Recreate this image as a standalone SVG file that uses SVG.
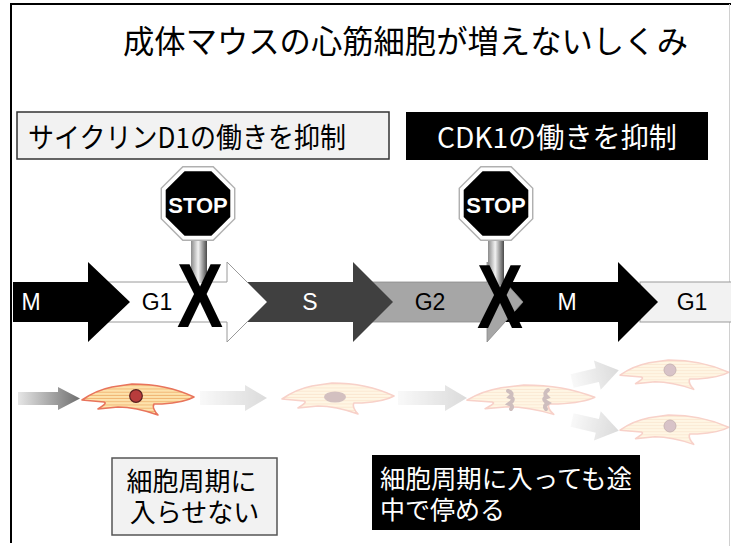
<svg xmlns="http://www.w3.org/2000/svg" width="731" height="546" viewBox="0 0 731 546">
  <style>
    .jp { font-family: "Noto Sans CJK JP", "Noto Sans", sans-serif; }
    .phase { font-family: "Liberation Sans", Arial, sans-serif; font-size: 23px; text-anchor: middle; }
    .cross { font-family: "Liberation Sans", Arial, sans-serif; font-size: 90px; font-weight: bold; fill: #000; }
    .stoptxt { font-family: "Liberation Sans", Arial, sans-serif; font-size: 22px; font-weight: bold; fill: #fff; text-anchor: middle; }
    .cellbody { fill: url(#stripes); stroke: #e8745c; stroke-width: 1.6; stroke-linejoin: round; }
  </style>
  <defs>
    <linearGradient id="pole" x1="0" y1="0" x2="1" y2="0">
      <stop offset="0" stop-color="#8a8a8a"/>
      <stop offset="0.45" stop-color="#f2f2f2"/>
      <stop offset="1" stop-color="#4a4a4a"/>
    </linearGradient>
    <linearGradient id="flowDark" x1="0" y1="0" x2="1" y2="0">
      <stop offset="0" stop-color="#e6e6e6"/>
      <stop offset="1" stop-color="#6e6e6e"/>
    </linearGradient>
    <linearGradient id="flowLight" x1="0" y1="0" x2="1" y2="0">
      <stop offset="0" stop-color="#f7f7f7"/>
      <stop offset="1" stop-color="#cfcfcf"/>
    </linearGradient>
    <pattern id="stripes" width="8" height="3.2" patternUnits="userSpaceOnUse">
      <rect width="8" height="3.2" fill="#fde3ad"/>
      <rect y="2.3" width="8" height="0.9" fill="#efb26e"/>
    </pattern>
    <!-- cardiomyocyte outline, about 112 x 32 -->
    <path id="cell" d="M0,17 C10,10 20,6 30,4 L50,1 C75,1 95,6 112,14 C105,18 95,20 80,21 L72,21 C70,24 73,29 76,32 C62,27 50,24 36,24 L16,26 C22,22 25,20 22,19 Z"/>
    <polygon id="octOuter" points="36,14.9 14.9,36 -14.9,36 -36,14.9 -36,-14.9 -14.9,-36 14.9,-36 36,-14.9"/>
    <polygon id="octInner" points="32.3,13.4 13.4,32.3 -13.4,32.3 -32.3,13.4 -32.3,-13.4 -13.4,-32.3 13.4,-32.3 32.3,-13.4"/>
    <!-- short block arrow used for the daughter-cell split -->
    <polygon id="splitArrow" points="0,-7 26,-7 26,-15 48,0 26,15 26,7 0,7"/>
  </defs>

  <rect width="731" height="546" fill="#fff"/>
  <!-- slide frame -->
  <path d="M11,543 V4 H731" fill="none" stroke="#000" stroke-width="2"/>
  <line x1="729.5" y1="4" x2="729.5" y2="546" stroke="#d0d0d0" stroke-width="1"/>

  <g id="title">
    <text class="jp" x="123" y="53" font-size="31.5" textLength="565" lengthAdjust="spacingAndGlyphs" fill="#000">成体マウスの心筋細胞が増えないしくみ</text>
  </g>

  <g id="label-cyclin">
    <rect x="17" y="112" width="372" height="47" fill="#f2f2f2" stroke="#333" stroke-width="1.5"/>
    <text class="jp" x="28" y="148" font-size="28" textLength="318" lengthAdjust="spacingAndGlyphs" fill="#000">サイクリンD1の働きを抑制</text>
  </g>

  <g id="label-cdk1">
    <rect x="406" y="112" width="302" height="48" fill="#000"/>
    <text class="jp" x="437" y="148" font-size="28" textLength="240" lengthAdjust="spacingAndGlyphs" fill="#fff">CDK1の働きを抑制</text>
  </g>

  <!-- cell-cycle phase arrows, drawn right to left so each head overlaps the next -->
  <g id="phases">
    <g id="phase-g1-next">
      <rect x="640" y="282" width="95" height="40" fill="#f2f2f2" stroke="#9a9a9a" stroke-width="1"/>
      <text class="phase" x="692" y="310" fill="#000">G1</text>
    </g>
    <g id="phase-m-next">
      <polygon points="490,282 618,282 618,262 658,302 618,342 618,322 490,322" fill="#000"/>
      <text class="phase" x="567" y="310" fill="#fff">M</text>
    </g>
    <g id="phase-g2">
      <polygon points="370,282 487,282 487,262 523,302 487,342 487,322 370,322" fill="#a6a6a6" stroke="#8a8a8a" stroke-width="0.8"/>
      <text class="phase" x="430" y="310" fill="#000">G2</text>
    </g>
    <g id="phase-s">
      <polygon points="230,282 353,282 353,262 393,302 353,342 353,322 230,322" fill="#404040"/>
      <text class="phase" x="310" y="310" fill="#fff">S</text>
    </g>
    <g id="phase-g1">
      <polygon points="100,282 227,282 227,262 267,302 227,342 227,322 100,322" fill="#fff" stroke="#9a9a9a" stroke-width="1"/>
      <text class="phase" x="157" y="310" fill="#000">G1</text>
    </g>
    <g id="phase-m">
      <polygon points="13,282 88,282 88,262 130,302 88,342 88,322 13,322" fill="#000"/>
      <text class="phase" x="31" y="310" fill="#fff">M</text>
    </g>
  </g>

  <g id="stop-g1">
    <rect x="191" y="238" width="16" height="45" fill="url(#pole)"/>
    <g transform="translate(198,203.5)">
      <use href="#octOuter" transform="scale(1.04)" fill="#b0b0b0"/>
      <use href="#octOuter" fill="#fff"/>
      <use href="#octInner" fill="#000"/>
    </g>
    <text class="stoptxt" x="198" y="213">STOP</text>
    <text class="cross" x="177" y="327" textLength="46" lengthAdjust="spacingAndGlyphs">X</text>
  </g>

  <g id="stop-m">
    <rect x="488" y="238" width="16" height="47" fill="url(#pole)"/>
    <g transform="translate(496,203.5)">
      <use href="#octOuter" transform="scale(1.04)" fill="#b0b0b0"/>
      <use href="#octOuter" fill="#fff"/>
      <use href="#octInner" fill="#000"/>
    </g>
    <text class="stoptxt" x="496" y="213">STOP</text>
    <text class="cross" x="477" y="328" textLength="46" lengthAdjust="spacingAndGlyphs">X</text>
  </g>

  <!-- cell fate row -->
  <g id="connectors">
    <polygon points="18,392 58,392 58,387 80,398.5 58,410 58,405 18,405" fill="url(#flowDark)"/>
    <g opacity="0.75">
      <polygon points="200,391 245,391 245,385 267,398 245,411 245,405 200,405" fill="url(#flowLight)"/>
      <polygon points="398,391 445,391 445,385 467,398 445,411 445,405 398,405" fill="url(#flowLight)"/>
      <use href="#splitArrow" transform="translate(572,381) rotate(-13)" fill="url(#flowLight)"/>
      <use href="#splitArrow" transform="translate(572,420) rotate(13)" fill="url(#flowLight)"/>
    </g>
  </g>

  <g id="cell-quiescent">
    <use href="#cell" transform="translate(82,383)" class="cellbody"/>
    <circle cx="136" cy="396" r="6.3" fill="#b83c3c" stroke="#5a1f1f" stroke-width="1.2"/>
  </g>

  <g id="cell-faded" opacity="0.33">
    <use href="#cell" transform="translate(282,382)" class="cellbody"/>
    <ellipse cx="335" cy="397" rx="11" ry="5.5" fill="#7a4040"/>
  </g>

  <g id="cell-dividing" opacity="0.33">
    <use href="#cell" transform="translate(467,384) scale(1.14,0.95)" class="cellbody"/>
    <path d="M508,391 Q514,393 510,397 Q516,399 509,404 Q514,406 511,409" fill="none" stroke="#6a3a3a" stroke-width="4" stroke-linecap="round"/>
    <path d="M548,390 Q543,393 547,397 Q541,399 548,403 Q543,406 546,409" fill="none" stroke="#6a3a3a" stroke-width="4" stroke-linecap="round"/>
  </g>

  <g id="cell-daughter-top" opacity="0.33">
    <use href="#cell" transform="translate(620,359) scale(0.97,0.95)" class="cellbody"/>
    <circle cx="670" cy="370" r="6" fill="#8a4a5a" stroke="#5a1f1f" stroke-width="1"/>
  </g>

  <g id="cell-daughter-bottom" opacity="0.33">
    <use href="#cell" transform="translate(620,414) scale(0.97,0.95)" class="cellbody"/>
    <circle cx="670" cy="426" r="6" fill="#8a4a5a" stroke="#5a1f1f" stroke-width="1"/>
  </g>

  <g id="note-no-entry">
    <rect x="112" y="458" width="165" height="77" fill="#f2f2f2" stroke="#555" stroke-width="1.5"/>
    <text class="jp" font-size="26" text-anchor="middle" fill="#000">
      <tspan x="194.5" y="491">細胞周期に</tspan>
      <tspan x="194.5" y="522">入らせない</tspan>
    </text>
  </g>

  <g id="note-halt">
    <rect x="372" y="455" width="268" height="75" fill="#000"/>
    <text class="jp" font-size="25" fill="#fff">
      <tspan x="380" y="488" textLength="252" lengthAdjust="spacingAndGlyphs">細胞周期に入っても途</tspan>
      <tspan x="380" y="519">中で停める</tspan>
    </text>
  </g>
</svg>
